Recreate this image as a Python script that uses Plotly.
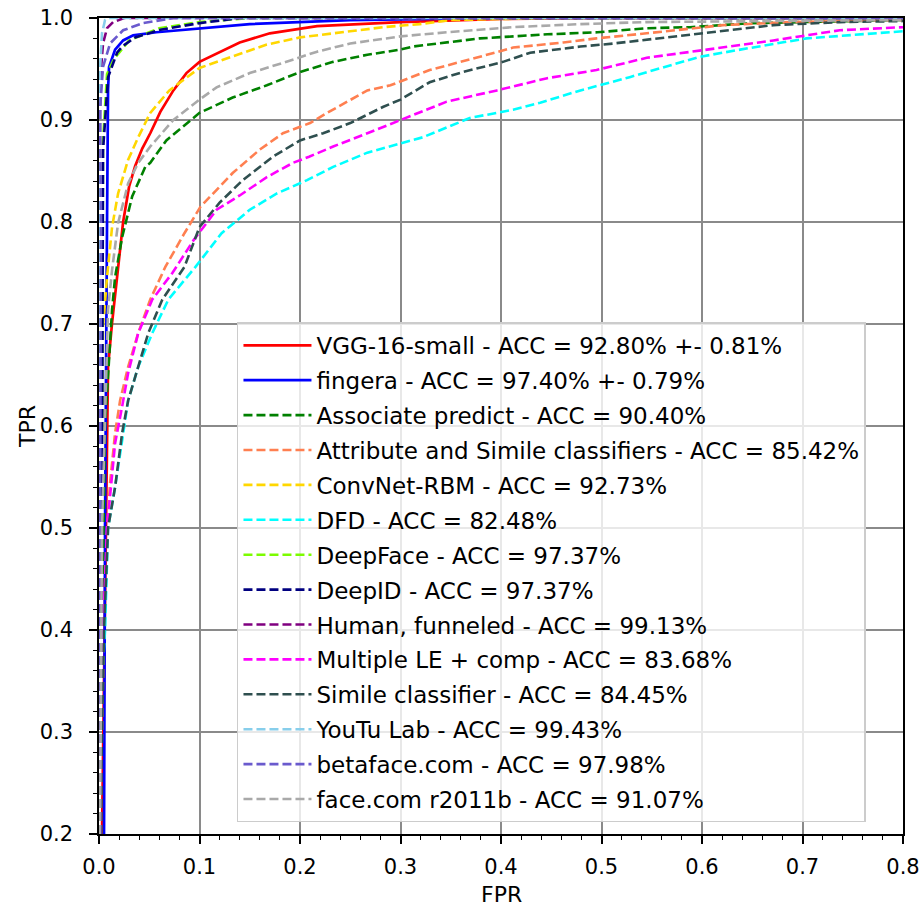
import plotly.graph_objects as go

# ---------------- data ----------------
names = [
    "VGG-16-small - ACC = 92.80% +- 0.81%",
    "fingera - ACC = 97.40% +- 0.79%",
    "Associate predict - ACC = 90.40%",
    "Attribute and Simile classifiers - ACC = 85.42%",
    "ConvNet-RBM - ACC = 92.73%",
    "DFD - ACC = 82.48%",
    "DeepFace - ACC = 97.37%",
    "DeepID - ACC = 97.37%",
    "Human, funneled - ACC = 99.13%",
    "Multiple LE + comp - ACC = 83.68%",
    "Simile classifier - ACC = 84.45%",
    "YouTu Lab - ACC = 99.43%",
    "betaface.com - ACC = 97.98%",
    "face.com r2011b - ACC = 91.07%",
]

vgg_fpr = [0.003, 0.005, 0.007, 0.008, 0.009, 0.013, 0.019, 0.024, 0.030, 0.036, 0.043, 0.051, 0.061, 0.074, 0.087, 0.100, 0.140, 0.170, 0.217, 0.30, 0.40, 0.50, 0.80]
vgg_tpr = [0.20, 0.35, 0.50, 0.60, 0.658, 0.701, 0.756, 0.800, 0.835, 0.855, 0.872, 0.887, 0.908, 0.929, 0.946, 0.957, 0.976, 0.985, 0.992, 0.996, 0.999, 1.0, 1.0]

fingera_fpr = [0.005, 0.006, 0.008, 0.009, 0.010, 0.016, 0.024, 0.034, 0.057, 0.10, 0.15, 0.25, 0.40, 0.80]
fingera_tpr = [0.20, 0.50, 0.80, 0.93, 0.952, 0.969, 0.978, 0.983, 0.986, 0.990, 0.994, 0.998, 1.0, 1.0]

assoc_fpr = [0.001, 0.003, 0.006, 0.013, 0.016, 0.023, 0.033, 0.046, 0.051, 0.067, 0.100, 0.133, 0.167, 0.200, 0.233, 0.267, 0.300, 0.312, 0.379, 0.446, 0.496, 0.545, 0.588, 0.65, 0.80]
assoc_tpr = [0.20, 0.40, 0.60, 0.714, 0.746, 0.785, 0.825, 0.854, 0.858, 0.880, 0.907, 0.922, 0.934, 0.947, 0.957, 0.964, 0.969, 0.972, 0.980, 0.984, 0.986, 0.990, 0.991, 0.995, 0.998]

attr_fpr = [0.001, 0.005, 0.008, 0.011, 0.016, 0.021, 0.029, 0.039, 0.051, 0.066, 0.085, 0.101, 0.133, 0.160, 0.183, 0.210, 0.227, 0.250, 0.267, 0.290, 0.303, 0.329, 0.379, 0.412, 0.462, 0.495, 0.545, 0.621, 0.687, 0.80]
attr_tpr = [0.20, 0.40, 0.50, 0.544, 0.593, 0.625, 0.658, 0.691, 0.724, 0.756, 0.789, 0.815, 0.848, 0.871, 0.887, 0.897, 0.907, 0.920, 0.929, 0.934, 0.939, 0.949, 0.962, 0.971, 0.976, 0.980, 0.985, 0.993, 0.996, 0.998]

convnet_fpr = [0.001, 0.002, 0.004, 0.008, 0.013, 0.019, 0.029, 0.039, 0.051, 0.070, 0.100, 0.133, 0.167, 0.200, 0.233, 0.283, 0.319, 0.35, 0.45, 0.80]
convnet_tpr = [0.20, 0.50, 0.697, 0.746, 0.795, 0.828, 0.861, 0.883, 0.907, 0.929, 0.951, 0.962, 0.974, 0.981, 0.985, 0.991, 0.994, 0.998, 1.0, 1.0]

dfd_fpr = [0.001, 0.003, 0.006, 0.009, 0.016, 0.023, 0.029, 0.039, 0.053, 0.069, 0.096, 0.122, 0.150, 0.177, 0.207, 0.233, 0.267, 0.300, 0.322, 0.369, 0.412, 0.439, 0.479, 0.528, 0.598, 0.638, 0.704, 0.80]
dfd_tpr = [0.20, 0.35, 0.40, 0.50, 0.54, 0.586, 0.625, 0.658, 0.691, 0.724, 0.756, 0.789, 0.812, 0.828, 0.841, 0.854, 0.868, 0.877, 0.883, 0.902, 0.910, 0.917, 0.929, 0.942, 0.962, 0.969, 0.980, 0.987]

deepface_fpr = [0.002, 0.003, 0.004, 0.008, 0.015, 0.030, 0.060, 0.10, 0.15, 0.80]
deepface_tpr = [0.20, 0.50, 0.88, 0.945, 0.960, 0.978, 0.990, 0.996, 1.0, 1.0]

deepid_fpr = [0.002, 0.003, 0.004, 0.009, 0.014, 0.018, 0.023, 0.031, 0.036, 0.053, 0.058, 0.10, 0.14, 0.80]
deepid_tpr = [0.20, 0.50, 0.87, 0.942, 0.955, 0.966, 0.972, 0.978, 0.981, 0.986, 0.988, 0.995, 1.0, 1.0]

human_fpr = [0.0, 0.001, 0.002, 0.004, 0.008, 0.014, 0.025, 0.80]
human_tpr = [0.20, 0.90, 0.95, 0.975, 0.990, 0.996, 1.0, 1.0]

mle_fpr = [0.001, 0.004, 0.008, 0.016, 0.023, 0.029, 0.039, 0.053, 0.073, 0.094, 0.117, 0.140, 0.167, 0.193, 0.209, 0.233, 0.267, 0.300, 0.313, 0.346, 0.396, 0.446, 0.495, 0.545, 0.605, 0.671, 0.737, 0.80]
mle_tpr = [0.20, 0.40, 0.50, 0.583, 0.619, 0.652, 0.691, 0.724, 0.750, 0.782, 0.812, 0.826, 0.844, 0.858, 0.864, 0.874, 0.887, 0.900, 0.905, 0.918, 0.929, 0.941, 0.949, 0.961, 0.969, 0.978, 0.988, 0.991]

simile_fpr = [0.001, 0.005, 0.009, 0.016, 0.023, 0.029, 0.039, 0.049, 0.063, 0.085, 0.100, 0.120, 0.143, 0.173, 0.200, 0.223, 0.250, 0.283, 0.300, 0.329, 0.362, 0.402, 0.429, 0.479, 0.512, 0.555, 0.605, 0.671, 0.737, 0.80]
simile_tpr = [0.20, 0.40, 0.50, 0.54, 0.593, 0.625, 0.658, 0.691, 0.724, 0.756, 0.795, 0.819, 0.841, 0.864, 0.880, 0.887, 0.897, 0.913, 0.920, 0.937, 0.947, 0.957, 0.966, 0.972, 0.975, 0.980, 0.986, 0.993, 0.996, 0.997]

youtu_fpr = [0.0, 0.001, 0.003, 0.006, 0.010, 0.80]
youtu_tpr = [0.20, 0.95, 0.985, 0.998, 1.0, 1.0]

betaface_fpr = [0.0, 0.001, 0.002, 0.001, 0.004, 0.011, 0.024, 0.044, 0.074, 0.80]
betaface_tpr = [0.20, 0.50, 0.80, 0.91, 0.952, 0.975, 0.988, 0.995, 1.0, 1.0]

facecom_fpr = [0.001, 0.003, 0.009, 0.013, 0.019, 0.029, 0.039, 0.051, 0.074, 0.100, 0.117, 0.150, 0.183, 0.217, 0.250, 0.300, 0.346, 0.412, 0.479, 0.545, 0.80]
facecom_tpr = [0.20, 0.50, 0.714, 0.753, 0.799, 0.838, 0.858, 0.874, 0.900, 0.920, 0.932, 0.946, 0.956, 0.967, 0.975, 0.982, 0.986, 0.991, 0.994, 0.996, 0.998]

x_ticks = [0.0, 0.1, 0.2, 0.3, 0.4, 0.5, 0.6, 0.7, 0.8]
y_ticks = [0.2, 0.3, 0.4, 0.5, 0.6, 0.7, 0.8, 0.9, 1.0]
x_title = "FPR"
y_title = "TPR"

# ---------------- styling ----------------
series = [
    (vgg_fpr, vgg_tpr, "red", "solid"),
    (fingera_fpr, fingera_tpr, "blue", "solid"),
    (assoc_fpr, assoc_tpr, "green", "dash"),
    (attr_fpr, attr_tpr, "coral", "dash"),
    (convnet_fpr, convnet_tpr, "gold", "dash"),
    (dfd_fpr, dfd_tpr, "cyan", "dash"),
    (deepface_fpr, deepface_tpr, "lawngreen", "dash"),
    (deepid_fpr, deepid_tpr, "navy", "dash"),
    (human_fpr, human_tpr, "purple", "dash"),
    (mle_fpr, mle_tpr, "magenta", "dash"),
    (simile_fpr, simile_tpr, "darkslategray", "dash"),
    (youtu_fpr, youtu_tpr, "skyblue", "dash"),
    (betaface_fpr, betaface_tpr, "slateblue", "dash"),
    (facecom_fpr, facecom_tpr, "darkgray", "dash"),
]

FONT = "DejaVu Sans, Liberation Sans, Arial, sans-serif"

fig = go.Figure()
for i, (name, (fx, ty, color, style)) in enumerate(zip(names, series)):
    fig.add_trace(go.Scatter(
        x=fx, y=ty, mode="lines", name=name, legendgroup=f"g{i}",
        line=dict(color=color, width=2.7 if style == "solid" else 2.6,
                  dash="solid" if style == "solid" else "9px,4px"),
    ))

axis_common = dict(
    showline=True, linecolor="black", linewidth=1.5, mirror=True,
    ticks="outside", ticklen=8, tickwidth=1.5, tickcolor="black",
    showgrid=True, gridcolor="#8a8a8a", gridwidth=1.5,
    zeroline=False, tickformat=".1f", automargin=False,
    tickfont=dict(family=FONT, size=21, color="black"),
    minor=dict(dtick=0.02, ticks="outside", ticklen=4, tickwidth=1.2,
               tickcolor="black", showgrid=False),
)

fig.update_xaxes(range=[0, 0.8], tickvals=x_ticks, ticklabelstandoff=5, **axis_common)
fig.update_yaxes(range=[0.2, 1.0], tickvals=y_ticks, ticklabelstandoff=12, **axis_common)

fig.add_annotation(text=x_title, xref="paper", yref="paper", x=0.5, y=-0.074,
                   xanchor="center", yanchor="middle", showarrow=False,
                   font=dict(family=FONT, size=22, color="black"))
fig.add_annotation(text=y_title, xref="paper", yref="paper", x=-0.0896, y=0.5,
                   xanchor="center", yanchor="middle", showarrow=False, textangle=-90,
                   font=dict(family=FONT, size=22, color="black"))

fig.update_layout(
    width=922, height=909,
    margin=dict(l=99, r=19, t=18, b=75, autoexpand=False),
    plot_bgcolor="white", paper_bgcolor="white",
    legend=dict(
        x=0.1716, y=0.627, xanchor="left", yanchor="top",
        bgcolor="rgba(255,255,255,0.8)", bordercolor="#cccccc", borderwidth=1.5,
        font=dict(family=FONT, size=23, color="black"),
        tracegroupgap=2, itemwidth=68,
    ),
    showlegend=True,
)

fig.write_html("out.html")
